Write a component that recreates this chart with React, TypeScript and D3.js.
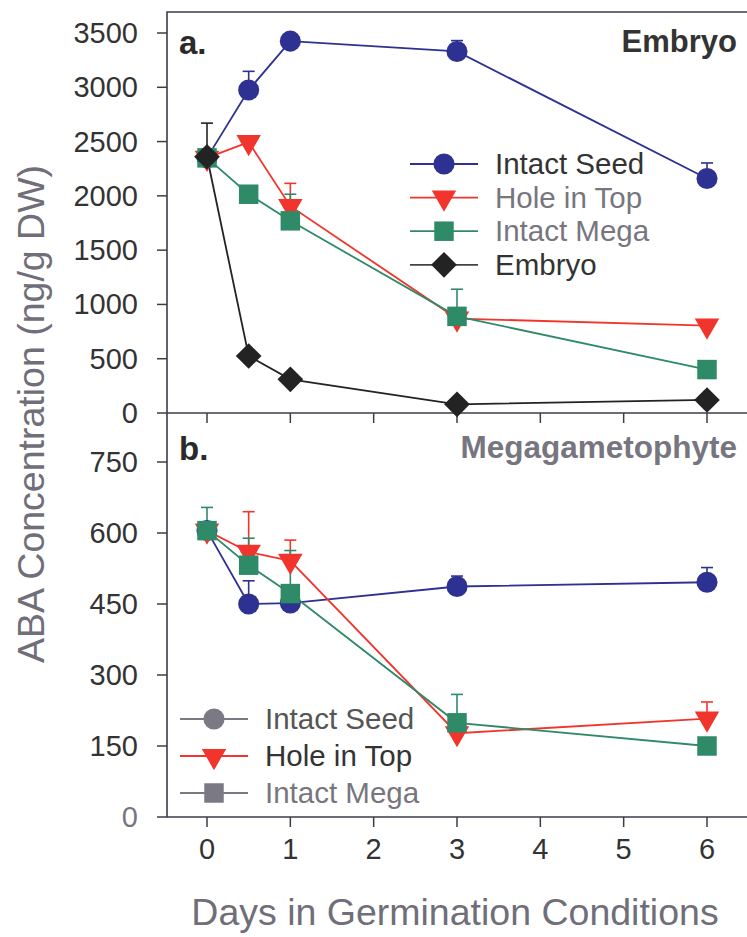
import React from "react";
import * as d3 from "d3";

// Sampling days
const days = [0, 0.5, 1, 3, 6];
const xTicks = [0, 1, 2, 3, 4, 5, 6];

// Panel a: embryo ABA (ng/g DW)
const embryoTicks = [0, 500, 1000, 1500, 2000, 2500, 3000, 3500];
const embSeed = [2350, 2975, 3425, 3330, 2160];
const embSeedErr = [null, 172, null, 100, 143];
const embHole = [2350, 2495, 1905, 870, 805];
const embHoleErr = [null, null, 210, null, null];
const embMega = [2350, 2015, 1770, 890, 400];
const embMegaErr = [null, null, 245, 250, null];
const embEmbryo = [2360, 525, 310, 80, 120];
const embEmbryoErr = [310, null, null, null, null];

// Panel b: megagametophyte ABA (ng/g DW)
const megaTicks = [0, 150, 300, 450, 600, 750];
const megSeed = [605, 450, 452, 487, 496];
const megSeedErr = [null, 49, null, 22, 31];
const megHole = [605, 560, 541, 177, 208];
const megHoleErr = [null, 85, 44, null, 35];
const megMega = [605, 532, 472, 199, 150];
const megMegaErr = [49, 57, 91, 60, null];

const legendA = ["Intact Seed", "Hole in Top", "Intact Mega", "Embryo"];
const legendB = ["Intact Seed", "Hole in Top", "Intact Mega"];

const BLUE = "#2d3192";
const RED = "#f2352c";
const GREEN = "#2f8a68";
const BLACK = "#232323";
const GREY = "#7a7984";
const AXIS = "#3c3c4a";
const FONT = "'Liberation Sans', Arial, sans-serif";

type Shape = "circle" | "triangle" | "square" | "diamond";

const x = d3.scaleLinear().domain([0, 6]).range([207, 707]);
const yA = d3.scaleLinear().domain([0, 3500]).range([413, 33]);
const yB = d3.scaleLinear().domain([0, 750]).range([817, 462]);

const LEFT = 167;
const RIGHT = 762;

function symbolPath(shape: Shape): { d: string; rot: number } {
  switch (shape) {
    case "circle":
      return { d: d3.symbol(d3.symbolCircle, 350)() as string, rot: 0 };
    case "triangle":
      return { d: d3.symbol(d3.symbolTriangle, 260)() as string, rot: 180 };
    case "square":
      return { d: d3.symbol(d3.symbolSquare, 380)() as string, rot: 0 };
    case "diamond":
      return { d: d3.symbol(d3.symbolSquare, 330)() as string, rot: 45 };
  }
}

function Marker({ shape, cx, cy, fill }: { shape: Shape; cx: number; cy: number; fill: string }) {
  const s = symbolPath(shape);
  return <path d={s.d} transform={`translate(${cx},${cy}) rotate(${s.rot})`} fill={fill} />;
}

type Series = { values: number[]; errs: (number | null)[]; color: string; shape: Shape };

function Panel({ y, series }: { y: d3.ScaleLinear<number, number>; series: Series[] }) {
  const line = d3
    .line<number>()
    .x((_, i) => x(days[i]))
    .y((v) => y(v));
  return (
    <g>
      {series.map((s, k) => (
        <path key={`l${k}`} d={line(s.values) as string} fill="none" stroke={s.color} strokeWidth={1.8} />
      ))}
      {series.map((s, k) => (
        <g key={`e${k}`} stroke={s.color} strokeWidth={1.6}>
          {s.errs.map((e, i) =>
            e == null ? null : (
              <g key={i}>
                <line x1={x(days[i])} x2={x(days[i])} y1={y(s.values[i])} y2={y(s.values[i] + e)} />
                <line x1={x(days[i]) - 6} x2={x(days[i]) + 6} y1={y(s.values[i] + e)} y2={y(s.values[i] + e)} />
              </g>
            )
          )}
        </g>
      ))}
      {series.map((s, k) => (
        <g key={`m${k}`}>
          {s.values.map((v, i) => (
            <Marker key={i} shape={s.shape} cx={x(days[i])} cy={y(v)} fill={s.color} />
          ))}
        </g>
      ))}
    </g>
  );
}

function LegendRow({
  lx, ly, shape, color, lineColor, label, textColor,
}: {
  lx: number; ly: number; shape: Shape; color: string; lineColor: string; label: string; textColor: string;
}) {
  return (
    <g>
      <line x1={lx} x2={lx + 68} y1={ly} y2={ly} stroke={lineColor} strokeWidth={1.8} />
      <Marker shape={shape} cx={lx + 34} cy={ly} fill={color} />
      <text x={lx + 85} y={ly + 10} fontSize={29.5} fill={textColor} fontFamily={FONT}>
        {label}
      </text>
    </g>
  );
}

export default function App() {
  const seriesA: Series[] = [
    { values: embSeed, errs: embSeedErr, color: BLUE, shape: "circle" },
    { values: embHole, errs: embHoleErr, color: RED, shape: "triangle" },
    { values: embMega, errs: embMegaErr, color: GREEN, shape: "square" },
    { values: embEmbryo, errs: embEmbryoErr, color: BLACK, shape: "diamond" },
  ];
  const seriesB: Series[] = [
    { values: megSeed, errs: megSeedErr, color: BLUE, shape: "circle" },
    { values: megHole, errs: megHoleErr, color: RED, shape: "triangle" },
    { values: megMega, errs: megMegaErr, color: GREEN, shape: "square" },
  ];
  const shapesA: Shape[] = ["circle", "triangle", "square", "diamond"];
  const colorsA = [BLUE, RED, GREEN, BLACK];
  const textA = ["#333", "#77767f", "#77767f", "#333"];
  const linesA = [BLUE, RED, GREEN, "#444"];
  const shapesB: Shape[] = ["circle", "triangle", "square"];
  const colorsB = [GREY, RED, GREY];
  const linesB = [GREY, RED, GREY];
  const textB = ["#555", "#333", "#77767f"];

  return (
    <svg
      width={747}
      height={937}
      style={{ position: "absolute", left: 0, top: 0, background: "#fff" }}
      fontFamily={FONT}
    >
      <rect width={747} height={937} fill="#fff" />

      {/* frames */}
      <g stroke={AXIS} strokeWidth={1.6} fill="none">
        <path d={`M${RIGHT},12H${LEFT}V817H${RIGHT}`} />
        <line x1={LEFT} x2={RIGHT} y1={413} y2={413} />
      </g>

      {/* y ticks, panel a */}
      {embryoTicks.map((t) => (
        <g key={`ya${t}`}>
          <line x1={157} x2={LEFT} y1={yA(t)} y2={yA(t)} stroke={AXIS} strokeWidth={1.5} />
          <text x={138} y={yA(t) + 10} textAnchor="end" fontSize={29} fill="#333">
            {t}
          </text>
        </g>
      ))}
      {/* y ticks, panel b */}
      {megaTicks.map((t) => (
        <g key={`yb${t}`}>
          <line x1={157} x2={LEFT} y1={yB(t)} y2={yB(t)} stroke={AXIS} strokeWidth={1.5} />
          <text x={138} y={yB(t) + 10} textAnchor="end" fontSize={29} fill={t === 0 ? "#77767f" : "#333"}>
            {t}
          </text>
        </g>
      ))}

      {/* x ticks on both panels */}
      {xTicks.map((t) => (
        <g key={`x${t}`}>
          <line x1={x(t)} x2={x(t)} y1={413} y2={423} stroke={AXIS} strokeWidth={1.5} />
          <line x1={x(t)} x2={x(t)} y1={817} y2={827} stroke={AXIS} strokeWidth={1.5} />
          <text x={x(t)} y={859} textAnchor="middle" fontSize={29} fill="#333">
            {t}
          </text>
        </g>
      ))}

      {/* axis titles */}
      <text x={455} y={925} textAnchor="middle" fontSize={37.5} fill="#6f6e79">
        Days in Germination Conditions
      </text>
      <text
        transform="translate(44,414) rotate(-90)"
        textAnchor="middle"
        fontSize={37.5}
        fill="#6f6e79"
      >
        ABA Concentration (ng/g DW)
      </text>

      {/* panel labels */}
      <text x={179} y={54} fontSize={33} fontWeight="bold" fill="#2a2a2a">a.</text>
      <text x={737} y={52} textAnchor="end" fontSize={31} fontWeight="bold" fill="#333">Embryo</text>
      <text x={179} y={460} fontSize={33} fontWeight="bold" fill="#2a2a2a">b.</text>
      <text x={737} y={458} textAnchor="end" fontSize={31.5} fontWeight="bold" fill="#77767f">
        Megagametophyte
      </text>

      {/* legends */}
      {legendA.map((name, i) => (
        <LegendRow
          key={`la${i}`}
          lx={410}
          ly={164 + i * 33.6}
          shape={shapesA[i]}
          color={colorsA[i]}
          lineColor={linesA[i]}
          label={name}
          textColor={textA[i]}
        />
      ))}
      {legendB.map((name, i) => (
        <LegendRow
          key={`lb${i}`}
          lx={180}
          ly={719 + i * 37}
          shape={shapesB[i]}
          color={colorsB[i]}
          lineColor={linesB[i]}
          label={name}
          textColor={textB[i]}
        />
      ))}

      <Panel y={yA} series={seriesA} />
      <Panel y={yB} series={seriesB} />
    </svg>
  );
}
